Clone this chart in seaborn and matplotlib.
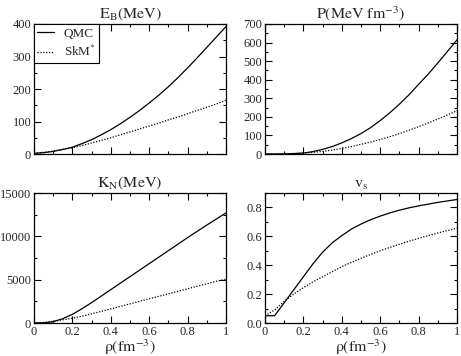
import numpy as np
import matplotlib
matplotlib.use('Agg')
import matplotlib.pyplot as plt
import seaborn as sns
from matplotlib.ticker import MultipleLocator

# density grid (fm^-3)
rho = [0.00, 0.05, 0.10, 0.15, 0.20, 0.25, 0.30, 0.35, 0.40, 0.45, 0.50,
       0.55, 0.60, 0.65, 0.70, 0.75, 0.80, 0.85, 0.90, 0.95, 1.00]
rho_ticks = [0, 0.2, 0.4, 0.6, 0.8, 1.0]
rho_labels = ['0', '0.2', '0.4', '0.6', '0.8', '1']

# binding energy E_B (MeV)
eb_qmc = [2, 4, 8, 14, 21, 32, 44, 59, 75, 93, 113,
          134, 157, 181, 207, 235, 265, 296, 328, 360, 392]
eb_skm = [2, 5, 9, 14, 19, 26, 34, 42, 50, 59, 68,
          77, 86, 95, 105, 114, 124, 134, 144, 154, 165]

# pressure P (MeV fm^-3)
p_qmc = [0, 0, 0.5, 2, 5, 13, 25, 40, 60, 83, 110,
         142, 180, 222, 268, 319, 375, 430, 490, 552, 615]
p_skm = [0, 0, 1, 3, 5, 9, 14, 21, 30, 40, 52,
         64, 78, 93, 110, 128, 147, 167, 188, 210, 233]

# incompressibility K_N (MeV)
k_qmc = [0, 20, 150, 500, 1000, 1650, 2350, 3100, 3850, 4600, 5350,
         6100, 6850, 7600, 8350, 9100, 9850, 10580, 11300, 12000, 12700]
k_skm = [0, 60, 200, 370, 550, 780, 1060, 1340, 1630, 1920, 2210,
         2500, 2790, 3080, 3370, 3660, 3950, 4240, 4530, 4820, 5050]

# speed of sound v_s
vs_qmc = [0.05, 0.05, 0.14, 0.23, 0.32, 0.41, 0.49, 0.555, 0.605, 0.65, 0.685,
          0.715, 0.74, 0.762, 0.781, 0.797, 0.811, 0.823, 0.835, 0.845, 0.855]
vs_skm = [0.05, 0.09, 0.15, 0.20, 0.245, 0.285, 0.32, 0.355, 0.39, 0.42, 0.448,
          0.475, 0.50, 0.523, 0.545, 0.566, 0.586, 0.605, 0.623, 0.64, 0.656]

sns.set_style('ticks')
plt.rcParams['font.family'] = ['Liberation Serif', 'DejaVu Serif']
plt.rcParams['mathtext.fontset'] = 'stix'
plt.rcParams['font.size'] = 9

fig = plt.figure(figsize=(4.61, 3.56), dpi=100)
W, H = 461, 356
def add_ax(x0, x1, y0, y1):
    return fig.add_axes([x0 / W, 1 - y1 / H, (x1 - x0) / W, (y1 - y0) / H])

axes = [add_ax(34, 226, 24, 154), add_ax(265, 457, 24, 154),
        add_ax(34, 226, 193, 323), add_ax(265, 457, 193, 323)]

panels = [
    (eb_qmc, eb_skm, r'$\mathrm{E_B(MeV)}$', 400, 100, 50),
    (p_qmc, p_skm, r'$\mathrm{P(MeV\ fm^{-3})}$', 700, 100, 50),
    (k_qmc, k_skm, r'$\mathrm{K_N(MeV)}$', 15000, 5000, 2500),
    (vs_qmc, vs_skm, r'$\mathrm{v_s}$', 0.9, 0.2, 0.1),
]

for i, (ax, (qmc, skm, title, ymax, major, minor)) in enumerate(zip(axes, panels)):
    sns.lineplot(x=rho, y=qmc, ax=ax, color='black', lw=0.9, label='QMC')
    sns.lineplot(x=rho, y=skm, ax=ax, color='black', lw=0.9, linestyle=(0, (1, 1.3)),
                 label=r'SkM$^{*}$')
    ax.set_xlim(0, 1)
    ax.set_ylim(0, ymax)
    ax.set_xticks(rho_ticks, rho_labels if i >= 2 else [''] * len(rho_ticks))
    ax.xaxis.set_minor_locator(MultipleLocator(0.1))
    ax.yaxis.set_major_locator(MultipleLocator(major))
    ax.yaxis.set_minor_locator(MultipleLocator(minor))
    ax.tick_params(which='both', direction='in', top=True, right=True,
                   labelsize=9, pad=2, width=0.8, color='black')
    ax.tick_params(which='major', length=5)
    ax.tick_params(which='minor', length=2.5)
    for s in ax.spines.values():
        s.set_linewidth(0.9)
        s.set_color('black')
    ax.set_title(title, fontsize=11.5, pad=4)
    if i >= 2:
        ax.set_xlabel(r'$\mathrm{\rho(fm^{-3})}$', fontsize=11.5, labelpad=0)
    if i == 0:
        leg = ax.legend(loc='upper left', fontsize=9.5, frameon=True, fancybox=False,
                        borderaxespad=0, handlelength=1.3, borderpad=0.25,
                        labelspacing=0.35, handletextpad=0.7)
        leg.get_frame().set_edgecolor('black')
        leg.get_frame().set_linewidth(0.8)
        leg.get_frame().set_alpha(1)
    else:
        ax.get_legend().remove()

fig.savefig('out.png', dpi=100)
